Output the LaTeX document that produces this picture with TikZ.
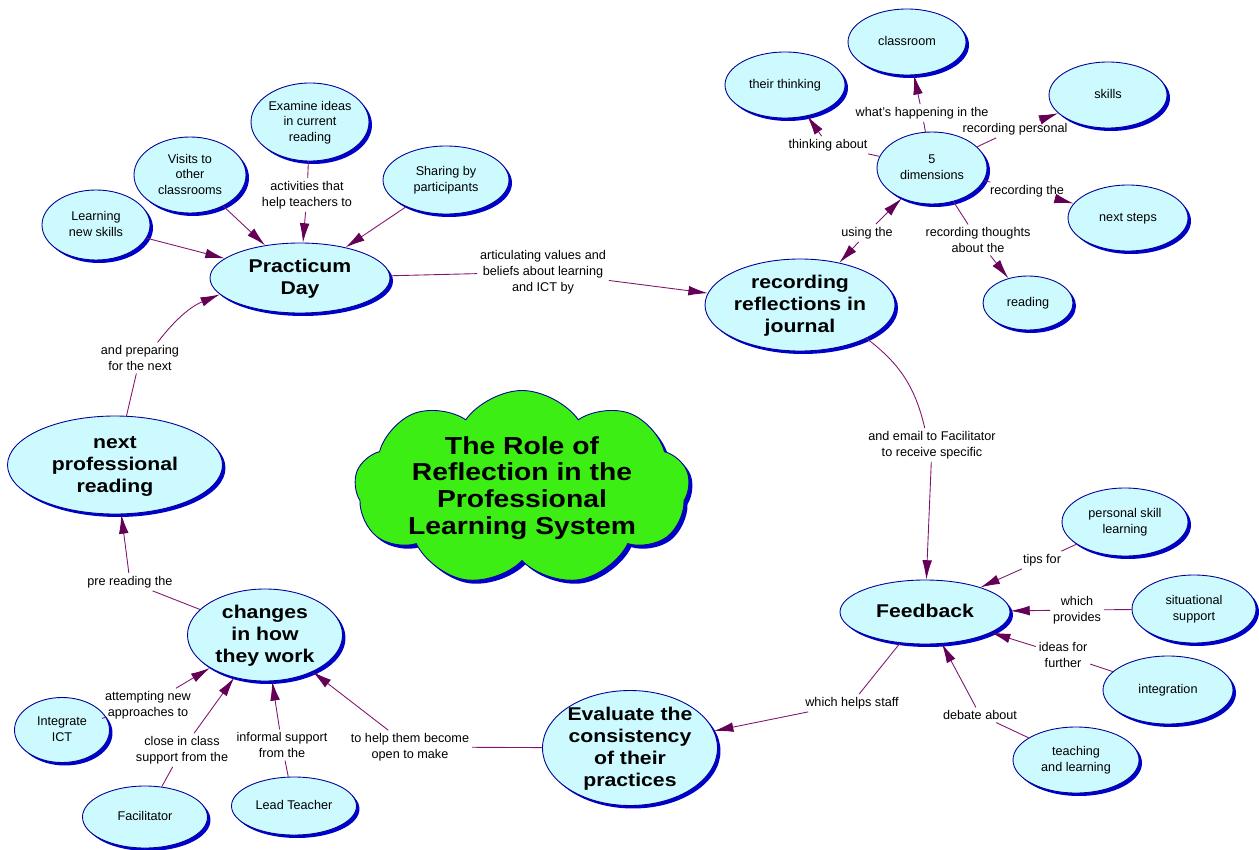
\documentclass[tikz,border=0pt]{standalone}
\usepackage{fontspec}
\setmainfont{Liberation Sans}
\newfontfamily\widefont[FakeStretch=1.15]{Liberation Sans}
\usetikzlibrary{positioning, shapes, shadows, arrows.meta}

\definecolor{conceptc}{RGB}{204,250,255}
\definecolor{borderc}{RGB}{0,0,150}
\definecolor{shadowc}{RGB}{0,0,205}
\definecolor{linkc}{RGB}{130,20,110}
\definecolor{tipc}{RGB}{100,0,85}
\definecolor{cloudc}{RGB}{60,238,20}

\newcommand\smallfont{\fontsize{7.2}{9}\selectfont}
\newcommand\bigfont{\widefont\bfseries\fontsize{10.5}{12.5}\selectfont}
\newcommand\hubfont{\widefont\bfseries\fontsize{14}{15.3}\selectfont}
% text that does not grow the shape
\newcommand\ctext[1]{\smash{\makebox[0pt]{\raisebox{-.3em}{\begin{tabular}{@{}c@{}}#1\end{tabular}}}}}

\tikzset{
  concept/.style={ellipse, draw=borderc, line width=0.5pt, fill=conceptc,
    inner sep=0pt, font=\smallfont,
    drop shadow={shadow xshift=1.7pt, shadow yshift=-1.7pt, fill=shadowc, opacity=1}},
  key/.style={concept, font=\bigfont},
  hub/.style={cloud, cloud puffs=9, cloud puff arc=110, draw=borderc, line width=0.5pt,
    fill=cloudc, inner sep=0pt, font=\hubfont,
    drop shadow={shadow xshift=2pt, shadow yshift=-2pt, fill=shadowc, opacity=1}},
  link/.style={align=center, font=\smallfont, inner sep=1.5pt},
  sz/.style 2 args={minimum width=#1*0.2mm, minimum height=#2*0.2mm},
  every edge/.append style={draw=linkc, line width=0.5pt}
}

\begin{document}
\begin{tikzpicture}[x=0.2mm, y=-0.2mm, -{Latex[length=11pt,width=5.5pt,color=tipc]}]
  \useasboundingbox (0,0) rectangle (1259,850);
  % centre cloud
  \node[hub, sz={335}{195}] (role) at (522,488) {\ctext{The Role of\\Reflection in the\\Professional\\Learning System}};
  % practicum day and its activities
  \node[key, sz={180}{70}] (prac) at (300,278) {\ctext{Practicum\\Day}};
  \node[concept, sz={108}{70}] (learn) at (96,225) {\ctext{Learning\\new skills}};
  \node[concept, sz={112}{76}] (visit) at (190,175) {\ctext{Visits to\\other\\classrooms}};
  \node[concept, sz={118}{78}] (exam) at (310,122) {\ctext{Examine ideas\\in current\\reading}};
  \node[concept, sz={126}{68}] (share) at (446,180) {\ctext{Sharing by\\participants}};
  \node[link] (l_act) at (307,195) {activities that\\help teachers to};
  \path (exam) edge[-] (l_act);
  \path (l_act) edge (prac);
  \path (learn) edge (prac);
  \path (visit) edge (prac);
  \path (share) edge (prac);
  % journal
  \node[key, sz={190}{92}] (rec) at (800,305) {\ctext{recording\\reflections in\\journal}};
  \node[link] (l_art) at (543,272) {articulating values and\\beliefs about learning\\and ICT by};
  \path (prac) edge[-] (l_art);
  \path (l_art) edge (rec);
  % 5 dimensions
  \node[concept, sz={110}{72}] (dim) at (932,168) {\ctext{5\\dimensions}};
  \node[concept, sz={120}{66}] (think) at (785,85) {\ctext{their thinking}};
  \node[concept, sz={118}{66}] (class) at (907,42) {\ctext{classroom}};
  \node[concept, sz={118}{66}] (skill) at (1108,95) {\ctext{skills}};
  \node[concept, sz={120}{66}] (steps) at (1128,218) {\ctext{next steps}};
  \node[concept, sz={90}{54}] (read) at (1028,303) {\ctext{reading}};
  \node[link] (l_use) at (867,233) {using the};
  \path (l_use) edge (rec);
  \path (l_use) edge (dim);
  \node[link] (l_thk) at (828,145) {thinking about};
  \path (dim) edge[-] (l_thk);
  \path (l_thk) edge (think);
  \node[link] (l_what) at (922,113) {what's happening in the};
  \path (dim) edge[-] (l_what);
  \path (l_what) edge (class);
  \node[link] (l_pers) at (1015,129) {recording personal};
  \path (dim) edge[-] (l_pers);
  \path (l_pers) edge (skill);
  \node[link] (l_the) at (1027,191) {recording the};
  \path (dim) edge[-] (l_the);
  \path (l_the) edge (steps);
  \node[link] (l_thought) at (978,240) {recording thoughts\\about the};
  \path (dim) edge[-] (l_thought);
  \path (l_thought) edge (read);
  % feedback
  \node[key, sz={170}{64}] (feed) at (925,612) {\ctext{Feedback}};
  \node[link] (l_email) at (932,445) {and email to Facilitator\\to receive specific};
  \path (rec) edge[-, bend left=20] (l_email);
  \path (l_email) edge (feed);
  \node[concept, sz={126}{68}] (pers) at (1125,522) {\ctext{personal skill\\learning}};
  \node[concept, sz={124}{68}] (sit) at (1194,609) {\ctext{situational\\support}};
  \node[concept, sz={130}{68}] (integ) at (1168,690) {\ctext{integration}};
  \node[concept, sz={126}{66}] (teach) at (1076,760) {\ctext{teaching\\and learning}};
  \node[link] (l_tips) at (1042,560) {tips for};
  \path (pers) edge[-] (l_tips);
  \path (l_tips) edge (feed);
  \node[link] (l_prov) at (1077,610) {which\\provides};
  \path (sit) edge[-] (l_prov);
  \path (l_prov) edge (feed);
  \node[link] (l_idea) at (1063,655) {ideas for\\further};
  \path (integ) edge[-] (l_idea);
  \path (l_idea) edge (feed);
  \node[link] (l_deb) at (980,715) {debate about};
  \path (teach) edge[-] (l_deb);
  \path (l_deb) edge (feed);
  % evaluate
  \node[key, sz={175}{115}] (eval) at (630,748) {\ctext{Evaluate the\\consistency\\of their\\practices}};
  \node[link] (l_help) at (852,703) {which helps staff};
  \path (feed) edge[-] (l_help);
  \path (l_help) edge (eval);
  % changes
  \node[key, sz={155}{92}] (chg) at (265,635) {\ctext{changes\\in how\\they work}};
  \node[link] (l_open) at (410,747) {to help them become\\open to make};
  \path (eval) edge[-] (l_open);
  \path (l_open) edge (chg);
  \node[concept, sz={95}{65}] (ict) at (62,730) {\ctext{Integrate\\ICT}};
  \node[concept, sz={125}{62}] (facil) at (145,817) {\ctext{Facilitator}};
  \node[concept, sz={125}{58}] (lead) at (294,806) {\ctext{Lead Teacher}};
  \node[link] (l_att) at (148,705) {attempting new\\approaches to};
  \path (ict) edge[-] (l_att);
  \path (l_att) edge (chg);
  \node[link] (l_close) at (182,750) {close in class\\support from the};
  \path (facil) edge[-] (l_close);
  \path (l_close) edge (chg);
  \node[link] (l_inf) at (282,745) {informal support\\from the};
  \path (lead) edge[-] (l_inf);
  \path (l_inf) edge (chg);
  % next reading
  \node[key, sz={215}{98}] (npr) at (115,465) {\ctext{next\\professional\\reading}};
  \node[link] (l_pre) at (130,582) {pre reading the};
  \path (chg) edge[-] (l_pre);
  \path (l_pre) edge (npr);
  \node[link] (l_prep) at (140,358) {and preparing\\for the next};
  \path (npr) edge[-] (l_prep);
  \path (l_prep) edge[bend left=15] (prac);
\end{tikzpicture}
\end{document}
